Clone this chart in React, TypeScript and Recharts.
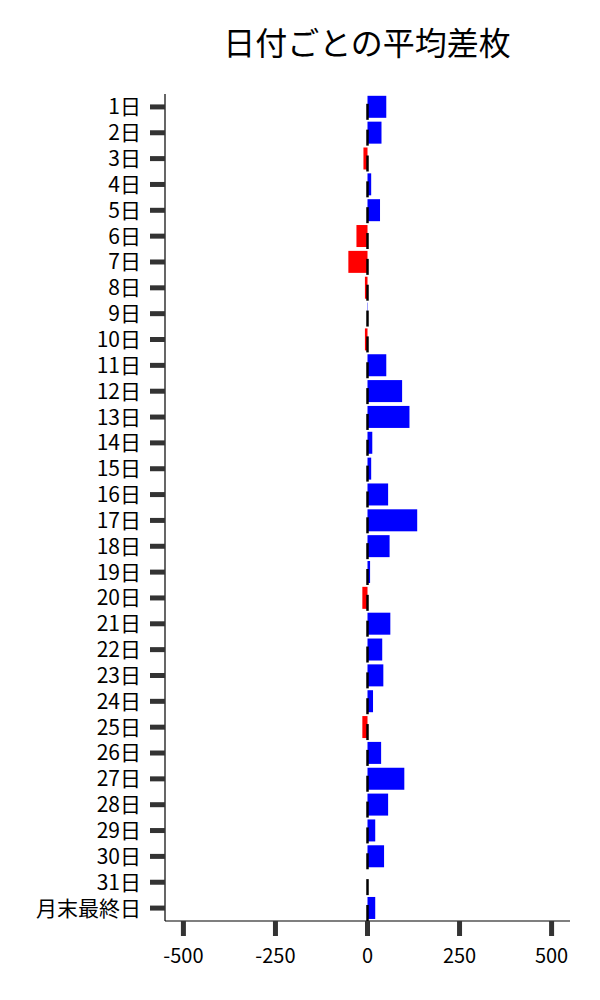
import { BarChart, Bar, XAxis, YAxis, Cell } from 'recharts'

const days = [
  '1日', '2日', '3日', '4日', '5日', '6日', '7日', '8日', '9日', '10日',
  '11日', '12日', '13日', '14日', '15日', '16日', '17日', '18日', '19日', '20日',
  '21日', '22日', '23日', '24日', '25日', '26日', '27日', '28日', '29日', '30日',
  '31日', '月末最終日',
]

const avgDiff = [
  51, 38, -11, 10, 34, -30, -52, -7, 1, -7,
  51, 94, 114, 13, 10, 56, 135, 60, 7, -14,
  62, 40, 43, 15, -14, 37, 100, 56, 21, 45,
  0, 21,
]

const xTicks = [-500, -250, 0, 250, 500]

const data = days.map((day, i) => ({ day, diff: avgDiff[i] }))

const FONT = '"Noto Sans CJK JP", "Noto Sans", sans-serif'

// bar plus the little black dash sitting on the zero line
function DashBar(props: any) {
  const { x, y, width, height, fill, payload } = props
  const left = Math.min(x, x + width)
  const w = Math.abs(width)
  const zeroX = payload.diff >= 0 ? left : left + w
  const cy = y + height / 2
  return (
    <g>
      {w > 0 && <rect x={left} y={y} width={w} height={height} fill={fill} />}
      <line x1={zeroX} x2={zeroX} y1={cy - 3} y2={cy + 13} stroke="#000" strokeWidth={2.5} />
    </g>
  )
}

export default function App() {
  return (
    <div style={{ position: 'absolute', left: 0, top: 0, width: 600, height: 1000, background: '#fff', fontFamily: FONT }}>
      <div
        style={{
          position: 'absolute',
          left: 167,
          width: 400,
          top: 21,
          textAlign: 'center',
          fontSize: 32,
          color: '#000',
          lineHeight: '40px',
        }}
      >
        日付ごとの平均差枚
      </div>
      <BarChart
        width={600}
        height={1000}
        data={data}
        layout="vertical"
        margin={{ top: 94, right: 30, bottom: 19, left: 0 }}
        barCategoryGap="7%"
      >
        <XAxis
          type="number"
          domain={[-550, 550]}
          ticks={xTicks}
          interval={0}
          height={60}
          axisLine={{ stroke: '#000', strokeWidth: 1.2 }}
          tickLine={{ stroke: '#333', strokeWidth: 5 }}
          tickSize={15}
          tickMargin={13}
          tick={{ fontSize: 20, fill: '#000', fontFamily: FONT }}
        />
        <YAxis
          type="category"
          dataKey="day"
          width={165}
          interval={0}
          axisLine={{ stroke: '#000', strokeWidth: 1.2 }}
          tickLine={{ stroke: '#333', strokeWidth: 5 }}
          tickSize={15}
          tickMargin={9}
          tick={{ fontSize: 21, fill: '#000', fontFamily: FONT }}
        />
        <Bar dataKey="diff" isAnimationActive={false} shape={<DashBar />}>
          {data.map((d) => (
            <Cell key={d.day} fill={d.diff >= 0 ? '#0000ff' : '#ff0000'} />
          ))}
        </Bar>
      </BarChart>
    </div>
  )
}
